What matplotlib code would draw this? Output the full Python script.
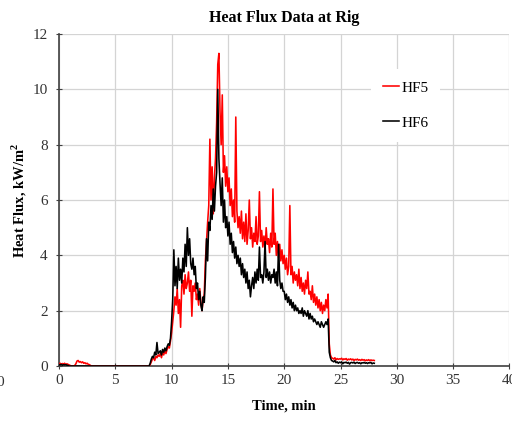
import numpy as np
import matplotlib
matplotlib.use("Agg")
import matplotlib.pyplot as plt

# Sampling times (min), 0.1 min logging interval
time_min = np.round(np.arange(0, 28.01, 0.1), 2)

hf5 = [
    0.08, 0.10, 0.06, 0.09, 0.07, 0.10, 0.05, 0.08, 0.06, 0.04,
    0.02, 0.00, 0.00, 0.00, 0.02, 0.08, 0.18, 0.20, 0.14, 0.16,
    0.12, 0.15, 0.10, 0.12, 0.08, 0.10, 0.06, 0.05, 0.02, 0.00,
    0, 0, 0, 0, 0, 0, 0, 0, 0, 0,
    0, 0, 0, 0, 0, 0, 0, 0, 0, 0,
    0, 0, 0, 0, 0, 0, 0, 0, 0, 0,
    0, 0, 0, 0, 0, 0, 0, 0, 0, 0,
    0, 0, 0, 0, 0, 0, 0, 0, 0, 0,
    0.00, 0.05, 0.15, 0.25, 0.30, 0.20, 0.35, 0.30, 0.40, 0.35,
    0.45, 0.30, 0.50, 0.40, 0.55, 0.45, 0.60, 0.70, 0.65, 0.90,
    1.20, 1.60, 2.00, 2.50, 2.20, 2.80, 1.90, 2.40, 1.40, 2.90,
    3.10, 2.60, 3.30, 2.80, 3.00, 3.40, 2.70, 3.10, 1.80, 2.90,
    2.70, 3.00, 2.40, 2.60, 2.20, 2.80, 2.30, 2.00, 2.40, 2.60,
    3.80, 4.50, 5.20, 5.80, 8.20, 6.00, 7.20, 5.50, 6.80, 7.50,
    8.80, 10.90, 11.30, 9.20, 8.00, 9.80, 7.00, 7.60, 6.50, 7.20,
    6.30, 6.80, 5.80, 6.40, 5.40, 6.00, 5.20, 9.00, 5.60, 5.00,
    5.40, 4.80, 5.60, 4.60, 5.20, 4.50, 5.50, 4.40, 4.90, 6.00,
    4.60, 5.00, 4.30, 4.80, 4.50, 5.40, 4.40, 4.70, 6.30, 4.50,
    4.90, 4.30, 4.70, 4.20, 5.00, 4.40, 4.60, 4.10, 4.80, 4.30,
    6.40, 4.40, 4.80, 4.00, 4.50, 3.90, 4.40, 3.80, 4.20, 3.70,
    4.00, 3.50, 3.90, 3.30, 3.60, 5.80, 3.30, 3.60, 3.00, 3.40,
    3.10, 3.30, 2.90, 3.50, 2.80, 3.20, 2.70, 3.00, 2.60, 3.10,
    2.80, 3.40, 2.60, 2.70, 2.40, 2.90, 2.30, 2.60, 2.20, 2.50,
    2.10, 2.40, 2.00, 2.30, 1.90, 2.20, 2.00, 2.40, 2.10, 2.60,
    0.80, 0.40, 0.30, 0.28, 0.25, 0.30, 0.22, 0.27, 0.24, 0.26,
    0.25, 0.28, 0.22, 0.26, 0.24, 0.27, 0.21, 0.25, 0.23, 0.26,
    0.22, 0.25, 0.20, 0.24, 0.22, 0.25, 0.21, 0.23, 0.20, 0.24,
    0.21, 0.23, 0.19, 0.22, 0.20, 0.23, 0.19, 0.22, 0.20, 0.21,
    0.20,
]

hf6 = [
    0.05, 0.04, 0.06, 0.03, 0.05, 0.04, 0.05, 0.03, 0.02, 0.00,
    0, 0, 0, 0, 0, 0, 0, 0, 0, 0,
    0, 0, 0, 0, 0, 0, 0, 0, 0, 0,
    0, 0, 0, 0, 0, 0, 0, 0, 0, 0,
    0, 0, 0, 0, 0, 0, 0, 0, 0, 0,
    0, 0, 0, 0, 0, 0, 0, 0, 0, 0,
    0, 0, 0, 0, 0, 0, 0, 0, 0, 0,
    0, 0, 0, 0, 0, 0, 0, 0, 0, 0,
    0.00, 0.10, 0.25, 0.35, 0.30, 0.50, 0.40, 0.85, 0.45, 0.50,
    0.55, 0.40, 0.60, 0.50, 0.65, 0.55, 0.70, 0.80, 0.75, 1.00,
    1.60, 2.40, 4.20, 2.90, 3.60, 2.80, 3.90, 3.10, 3.50, 3.00,
    3.90, 3.40, 4.40, 3.60, 5.00, 4.00, 4.60, 3.70, 3.50, 3.90,
    3.30, 3.60, 2.80, 3.00, 2.40, 2.70, 2.20, 2.00, 2.50, 2.30,
    3.20, 4.60, 3.80, 5.20, 4.90, 5.80, 5.30, 6.40, 5.60, 6.50,
    7.00, 10.00, 7.50, 6.60, 5.80, 6.80, 5.20, 6.00, 5.00, 5.40,
    4.70, 5.20, 4.40, 4.80, 4.10, 4.50, 3.90, 4.30, 3.70, 4.00,
    3.60, 3.90, 3.30, 3.70, 3.20, 3.50, 3.00, 3.40, 2.80, 3.10,
    2.50, 2.90, 3.20, 2.80, 3.40, 3.00, 3.50, 3.10, 4.30, 3.20,
    3.30, 3.00, 3.40, 4.50, 3.20, 3.50, 3.10, 3.40, 3.00, 3.30,
    3.20, 3.50, 3.00, 3.40, 2.90, 4.40, 3.10, 2.80, 3.00, 2.70,
    2.70, 2.40, 2.60, 2.30, 2.50, 2.20, 2.40, 2.10, 2.30, 2.00,
    2.20, 2.00, 2.10, 1.90, 2.00, 1.90, 2.10, 1.80, 2.00, 1.90,
    1.80, 2.00, 1.70, 1.90, 1.70, 1.80, 1.60, 1.70, 1.60, 1.50,
    1.60, 1.50, 1.40, 1.60, 1.50, 1.40, 1.50, 1.60, 1.50, 1.70,
    0.50, 0.30, 0.20, 0.18, 0.15, 0.20, 0.12, 0.15, 0.10, 0.14,
    0.12, 0.15, 0.08, 0.13, 0.12, 0.14, 0.10, 0.13, 0.07, 0.12,
    0.13, 0.11, 0.14, 0.09, 0.12, 0.13, 0.10, 0.12, 0.08, 0.12,
    0.11, 0.13, 0.10, 0.12, 0.09, 0.12, 0.11, 0.13, 0.08, 0.11,
    0.10,
]

x_ticks = [0, 5, 10, 15, 20, 25, 30, 35, 40]
y_ticks = [0, 2, 4, 6, 8, 10, 12]

serif = ["Liberation Serif", "DejaVu Serif"]
plt.rcParams["font.family"] = serif

fig = plt.figure(figsize=(5.12, 4.21), dpi=100)
ax = fig.add_axes([0.1152, 0.1306, 0.8798, 0.7886])

ax.plot(time_min, hf5, color="#ff0000", lw=1.15, label="HF5", zorder=3)
ax.plot(time_min, hf6, color="#000000", lw=1.15, label="HF6", zorder=4)

ax.set_xlim(0, 40)
ax.set_ylim(0, 12)
ax.set_xticks(x_ticks)
ax.set_yticks(y_ticks)
ax.grid(True, color="#d4d4d4", lw=0.9)
ax.set_axisbelow(True)

for side in ("top", "right"):
    ax.spines[side].set_visible(False)
for side in ("left", "bottom"):
    ax.spines[side].set_color("#404040")
    ax.spines[side].set_linewidth(1.2)

ax.tick_params(axis="both", direction="inout", length=4, width=0.8,
               colors="#404040", labelsize=11, labelcolor="#333333")
ax.tick_params(axis="x", pad=4)
ax.tick_params(axis="y", pad=6)

ax.set_title("Heat Flux Data at Rig", fontsize=11.5, fontweight="bold", pad=9)
ax.set_xlabel("Time, min", fontsize=10.5, fontweight="bold", labelpad=9)
ax.set_ylabel("Heat Flux, kW/m$^\\mathregular{2}$", fontsize=10.5,
              fontweight="bold", labelpad=2.5)

leg = ax.legend(loc="center", bbox_to_anchor=(0.77, 0.785), frameon=True,
                fontsize=11, handlelength=1.0, handletextpad=0.15,
                labelspacing=1.4, borderpad=0.8)
leg.get_frame().set_facecolor("white")
leg.get_frame().set_edgecolor("none")
leg.get_frame().set_alpha(1)

# stray tick label from the neighbouring panel at the left edge
fig.text(0.0, 1 - 382 / 421, "0", fontsize=11, color="#333333",
         ha="center", va="center")

fig.savefig("out.png", dpi=100)
